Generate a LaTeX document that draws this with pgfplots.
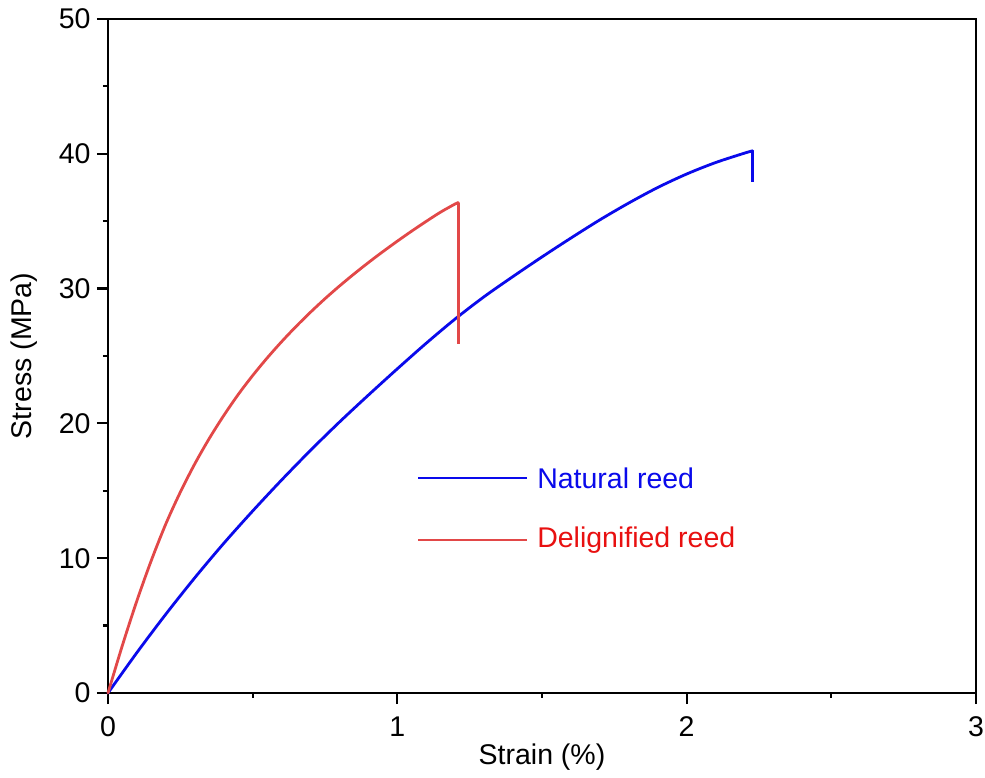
\documentclass[border=0pt]{standalone}
\usepackage{fontspec}
\setmainfont{Liberation Sans}
\usepackage{pgfplots}
\pgfplotsset{compat=1.18}
\definecolor{natblue}{RGB}{10,10,235}
\definecolor{delred}{RGB}{226,72,72}
\definecolor{deltext}{RGB}{232,16,16}
\begin{document}
\begin{tikzpicture}
\useasboundingbox (-108pt,-85pt) rectangle (877pt,693pt);
\begin{axis}[
  at={(0,0)}, anchor=south west,
  scale only axis,
  width=868pt, height=674pt,
  xmin=0, xmax=3, ymin=0, ymax=50,
  xtick={0,1,2,3}, ytick={0,10,20,30,40,50},
  minor xtick={0.5,1.5,2.5},
  minor ytick={5,15,25,35,45},
  tick align=outside,
  xtick pos=bottom, ytick pos=left,
  major tick length=11pt, minor tick length=5pt,
  every tick/.style={black, line width=2.2pt},
  axis line style={line width=2.6pt},
  /pgf/number format/assume math mode=true,
  tick label style={font=\fontsize{28.5}{33}\selectfont},
  label style={font=\fontsize{28.5}{33}\selectfont},
  xticklabel style={yshift=-9pt},
  yticklabel style={xshift=-3pt},
  xlabel={Strain (\%)},
  ylabel={Stress (MPa)},
  xlabel style={yshift=0pt},
  ylabel style={yshift=14pt},
  clip=false,
]
\addplot[natblue, line width=2.8pt, smooth, line cap=round] coordinates {
(0,0) (0.1,3.0) (0.2,5.85) (0.3,8.55) (0.4,11.1) (0.5,13.5) (0.6,15.8)
(0.7,18.0) (0.8,20.1) (0.9,22.1) (1.0,24.05) (1.1,25.95) (1.2,27.75)
(1.3,29.4) (1.4,30.9) (1.5,32.35) (1.6,33.75) (1.7,35.1) (1.8,36.35)
(1.9,37.5) (2.0,38.5) (2.1,39.35) (2.2,40.05) (2.228,40.22)
};
\addplot[natblue, line width=2.8pt, forget plot] coordinates {(2.228,40.22) (2.228,37.9)};
\addplot[delred, line width=2.8pt, smooth, line cap=round] coordinates {
(0,0) (0.05,3.55) (0.1,6.85) (0.15,9.85) (0.2,12.55) (0.25,14.9) (0.3,17.0)
(0.35,18.88) (0.4,20.58) (0.45,22.14) (0.5,23.55) (0.55,24.85) (0.6,26.06)
(0.65,27.19) (0.7,28.25) (0.75,29.25) (0.8,30.19) (0.85,31.08) (0.9,31.93)
(0.95,32.74) (1.0,33.52) (1.05,34.27) (1.1,34.99) (1.15,35.68) (1.2,36.28)
(1.211,36.38)
};
\addplot[delred, line width=2.8pt, forget plot] coordinates {(1.211,36.38) (1.211,25.9)};
% legend
\addplot[natblue, line width=2pt, forget plot] coordinates {(1.0715,15.95) (1.448,15.95)};
\addplot[delred, line width=2pt, forget plot] coordinates {(1.0715,11.35) (1.448,11.35)};
\node[anchor=west, inner sep=0pt, text=natblue, font=\fontsize{28.5}{33}\selectfont] at (axis cs:1.483,15.95) {Natural reed};
\node[anchor=west, inner sep=0pt, text=deltext, font=\fontsize{28.5}{33}\selectfont] at (axis cs:1.483,11.35) {Delignified reed};
\end{axis}
\end{tikzpicture}
\end{document}
